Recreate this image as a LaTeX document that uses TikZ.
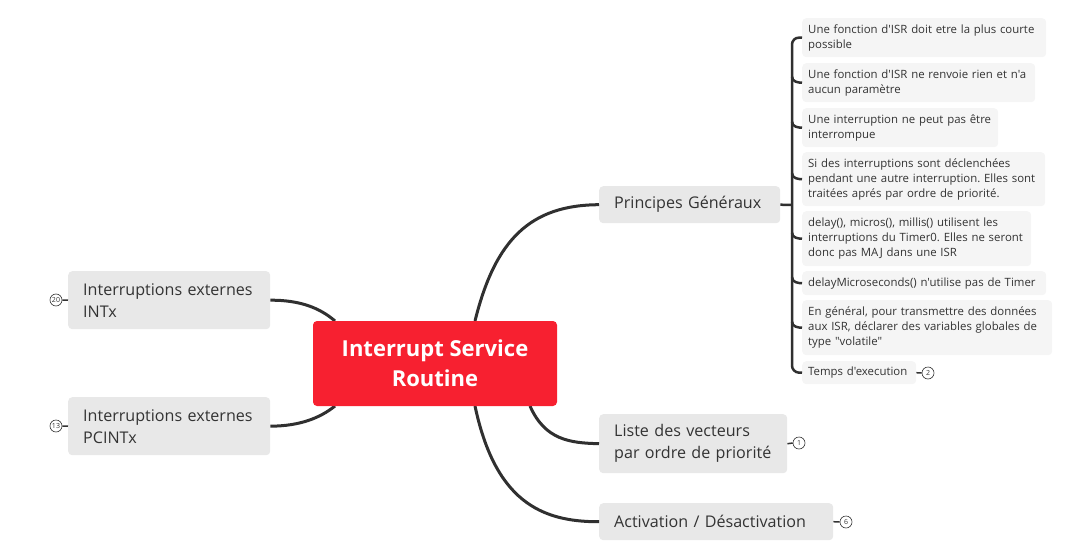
\documentclass[tikz,border=0pt]{standalone}
\usepackage{fontspec}
\setmainfont{Open Sans}[Ligatures=TeXOff]
\definecolor{isrred}{RGB}{247,32,48}
\definecolor{maingray}{RGB}{232,232,232}
\definecolor{subgray}{RGB}{245,245,245}
\definecolor{ink}{RGB}{51,51,51}
\definecolor{linec}{RGB}{48,48,48}
\begin{document}
\frenchspacing
\hyphenpenalty=10000
\exhyphenpenalty=10000
\begin{tikzpicture}[x=1pt,y=-1pt,
  central/.style={fill=isrred,rounded corners=4pt,text=white,font=\fontsize{22}{30}\selectfont\bfseries,align=center,minimum width=244pt,minimum height=85pt,inner sep=0pt},
  mainbox/.style={fill=maingray,rounded corners=4pt,text=ink,font=\fontsize{16.1}{22}\selectfont,anchor=north west,inner xsep=15pt,inner ysep=0pt,align=left},
  subbox/.style={fill=subgray,rounded corners=4pt,text=ink,font=\fontsize{11.4}{15}\selectfont,anchor=north west,inner xsep=6pt,inner ysep=0pt,align=left},
  conn/.style={draw=linec,line width=3pt},
  brk/.style={draw=linec,line width=2.5pt},
  badge/.style={circle,draw=ink,line width=0.6pt,fill=white,minimum size=12pt,inner sep=0pt,font=\fontsize{7}{7}\selectfont,text=ink},
  blink/.style={draw=ink,line width=1.5pt}
]
\useasboundingbox (0,0) rectangle (1068,551);

\coordinate (c1) at (475,321);
\coordinate (c2) at (530,406);
\coordinate (c3) at (475,406);
\coordinate (c4) at (335,321);
\coordinate (c5) at (335,406);

% main branches
\node[mainbox,minimum width=181pt,minimum height=37pt,text width=151pt] (pg) at (599,186) {Principes Généraux};
\node[mainbox,minimum width=188pt,minimum height=59pt,text width=158pt] (lv) at (599,414) {Liste des vecteurs\\par ordre de priorité};
\node[mainbox,minimum width=234pt,minimum height=37pt,text width=204pt] (ad) at (599,503) {Activation / Désactivation};
\node[mainbox,minimum width=202pt,minimum height=58pt,text width=172pt] (intx) at (68,271) {Interruptions externes\\INTx};
\node[mainbox,minimum width=202pt,minimum height=58pt,text width=172pt] (pcint) at (68,397) {Interruptions externes\\PCINTx};

% sub nodes
\node[subbox,minimum width=244pt,minimum height=39pt,text width=232pt] (s1) at (802,18) {Une fonction d'ISR doit etre la plus courte\\possible};
\node[subbox,minimum width=233pt,minimum height=39pt,text width=221pt] (s2) at (802,63) {Une fonction d'ISR ne renvoie rien et n'a\\aucun paramètre};
\node[subbox,minimum width=196pt,minimum height=39pt,text width=184pt] (s3) at (802,108) {Une interruption ne peut pas être\\interrompue};
\node[subbox,minimum width=243pt,minimum height=54pt,text width=231pt] (s4) at (802,152) {Si des interruptions sont déclenchées\\pendant une autre interruption. Elles sont\\traitées aprés par ordre de priorité.};
\node[subbox,minimum width=229pt,minimum height=55pt,text width=217pt] (s5) at (802,211) {delay(), micros(), millis() utilisent les\\interruptions du Timer0. Elles ne seront\\donc pas MAJ dans une ISR};
\node[subbox,minimum width=244pt,minimum height=24pt,text width=232pt] (s6) at (802,271) {delayMicroseconds() n'utilise pas de Timer};
\node[subbox,minimum width=250pt,minimum height=55pt,text width=238pt] (s7) at (802,300) {En général, pour transmettre des données\\aux ISR, déclarer des variables globales de\\type "volatile"};
\node[subbox,minimum width=114pt,minimum height=23pt,text width=102pt] (s8) at (802,361) {Temps d'execution};

% main connectors
\draw[conn] (c1) .. controls (495,240) and (530,205) .. (pg.west);
\draw[conn] (c2) .. controls (545,440) and (570,443) .. (lv.west);
\draw[conn] (c3) .. controls (495,500) and (540,522) .. (ad.west);
\draw[conn] (intx.east) .. controls (300,300) and (320,308) .. (c4);
\draw[conn] (pcint.east) .. controls (300,426) and (320,418) .. (c5);

% central on top
\node[central] (isr) at (435,363.5) {Interrupt Service\\Routine};

% bracket
\coordinate (bx) at (792,205);
\draw[brk] (pg.east) -- (bx);
\draw[brk,rounded corners=7pt] (s1.west) -- (792,37.5) -- (792,372.5) -- (s8.west);
\foreach \n in {s2,s3,s4,s5,s6,s7}{
  \draw[brk] (792,0|-\n.west) ++(0,-6) .. controls +(0,5) and +(-4,0) .. (\n.west);
}

% badges
\node[badge] (b2) at (928,373) {2};
\draw[blink] (s8.east) -- (b2.west);
\node[badge] (b1) at (799,443) {1};
\draw[blink] (lv.east) -- (b1.west);
\node[badge] (b6) at (846,522) {6};
\draw[blink] (ad.east) -- (b6.west);
\node[badge] (b20) at (56,300) {20};
\draw[blink] (b20.east) -- (intx.west);
\node[badge] (b13) at (56,426) {13};
\draw[blink] (b13.east) -- (pcint.west);
\end{tikzpicture}
\end{document}
